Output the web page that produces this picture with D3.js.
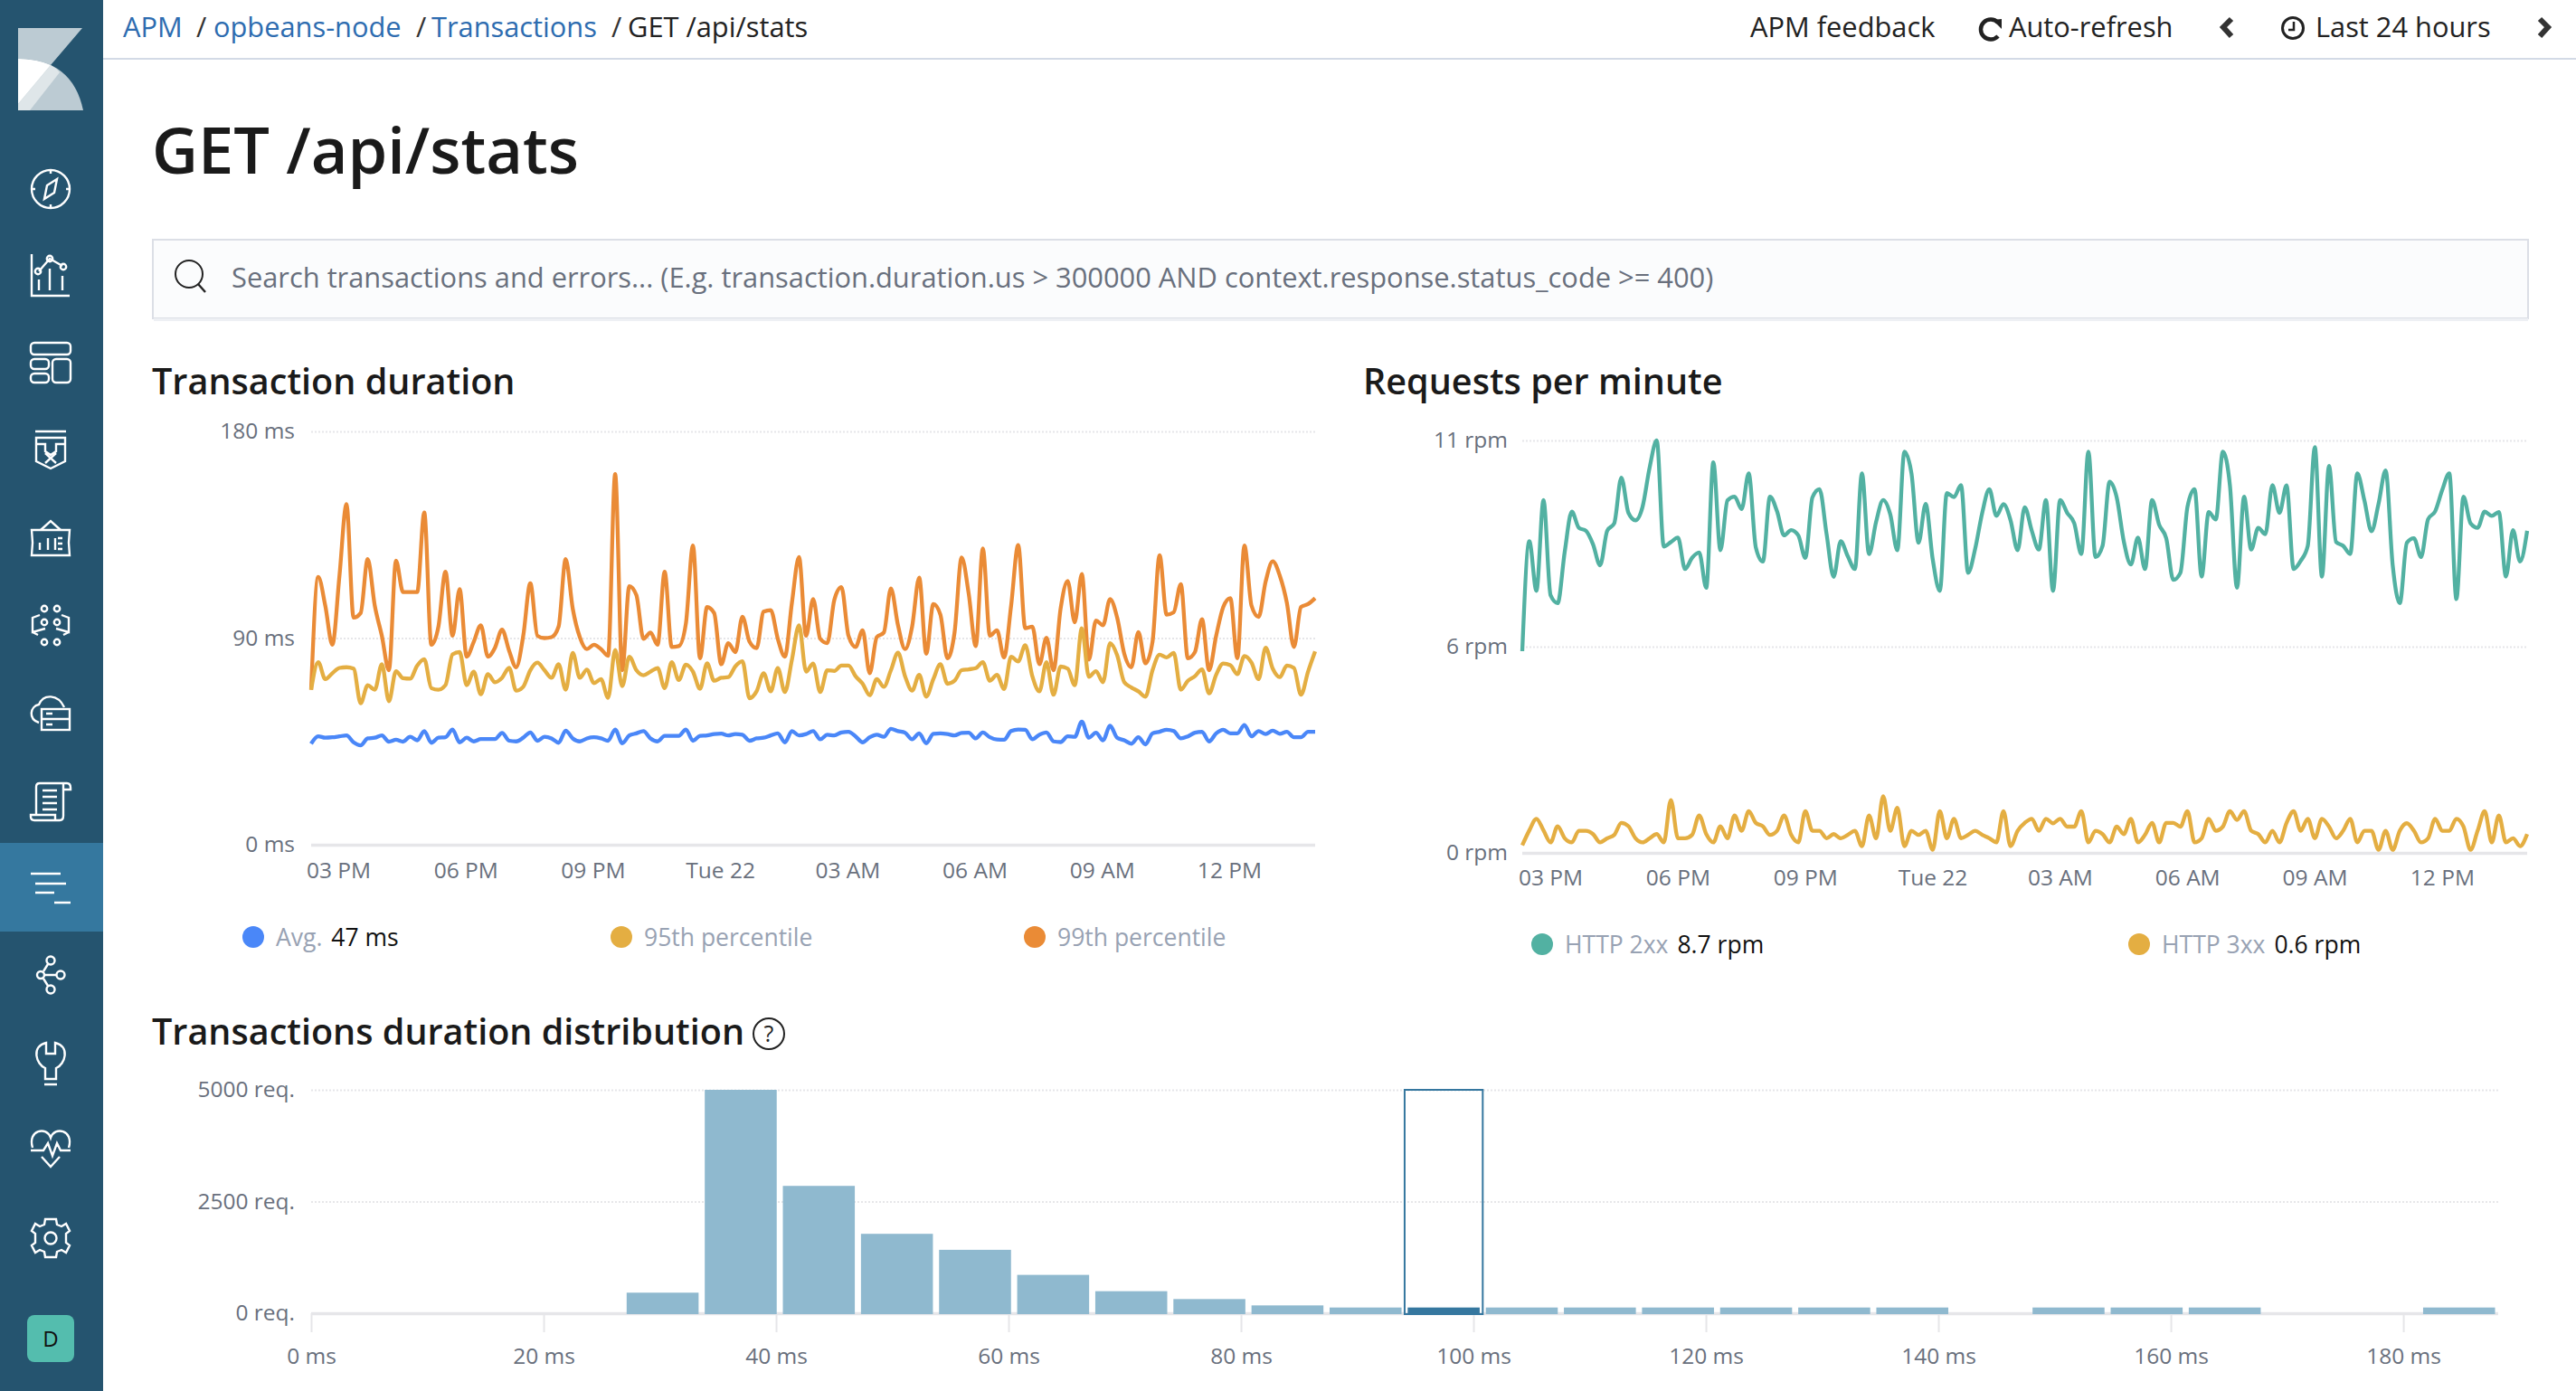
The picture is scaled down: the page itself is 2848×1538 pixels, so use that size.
<!DOCTYPE html>
<html>
<head>
<meta charset="utf-8">
<title>GET /api/stats</title>
<script src="https://cdn.jsdelivr.net/npm/d3@7"></script>
<style>
html,body{margin:0;padding:0;background:#fff;}
svg{display:block;}
text{font-family:"Open Sans",sans-serif;}
</style>
</head>
<body>
<svg id="page" width="2848" height="1538" viewBox="0 0 2848 1538"></svg>
<script>
// ---------- chart data ----------
const bucketStartHour = 14.36;
const bucketsPerHour = 6;

const durationAvgMs = [44,47.2,46.6,46.8,47.2,47.6,44.6,43.3,46.3,46.6,47.6,44.9,45.7,44.9,47,45.5,49.5,44.4,46.6,46.8,50.2,44.6,46.6,45,46,46,46,48.7,45.3,45,46.6,48.9,45.3,47,46.3,44.4,49.7,46.3,45,46.3,46.8,46.3,45.3,50.2,44.2,47.6,48.5,49.5,46.3,45,47.4,47.4,47.4,50.2,45.3,47.4,47.6,48.2,48.4,47.6,48.2,47.9,45.3,46.3,46.6,47.6,48.5,44.6,49.5,47.6,48.2,49.5,45.9,47.9,47.6,48.9,49.2,47.2,44.6,46.8,47.9,47,50.5,49.5,48.8,45.9,48.5,44.2,48.3,48.5,48.2,47.6,48.7,48.8,46.3,48.9,46.8,45.8,45.7,49.5,50.2,50.1,45.9,47.9,48.9,45,44.7,47.2,47,53.6,46.6,48.8,45.5,51.8,46.6,45.5,44,46.8,43.7,48.5,49.2,50.1,49.5,46.3,47.2,48.8,49.2,45,48.5,50.1,48.5,48.5,52.1,47.2,49.5,48.2,49.7,48.3,49.2,46.8,46.8,49.2,49.2];
const durationP95Ms = [67.5,79.5,72.1,74.7,77,77.3,76.7,61.6,69.5,67.5,78.6,62.5,75.6,72.5,72.3,78,80.8,68.2,67.5,69.5,82.9,83.9,69.5,75.4,65.5,74.3,70.8,72.7,77,67.1,68.8,76,79.3,76,72.7,78.6,67.5,83.5,72.7,76.3,70.4,72.1,64,84.8,69.1,81.9,76,73.8,75.4,76.9,68.2,79.5,71.7,78.4,75.4,67.9,79,71.4,72.7,73,77.7,79.9,63.8,66.8,74.7,66.8,76.9,66.5,80.6,95.6,75.4,78.9,66.5,76,75.7,78,78,73.4,70.1,65.1,72.1,68.8,76,83.6,73.4,67.1,74,64.5,72.1,78.6,70.1,71.4,76,76.4,76.9,79.5,71.4,74,67.8,81.9,79.8,86.9,73.4,66.8,79.5,65.3,77.6,76.7,69.5,94.3,73.1,75.6,70.8,87.8,82.5,70.8,68.5,66.8,64.5,76,82.8,81.6,83.5,67.5,71.4,73.4,76.4,65.9,74,78.9,78.2,74.3,82.2,79.3,72.1,85.8,76.7,73,78,77,65.3,75.4,84.2];
const durationP99Ms = [67.5,116.6,104.1,87.1,117,148.3,98.9,100.9,124.4,104.1,91,76,123.7,110,110,110,144.7,87.1,95,118.9,91,111.3,81.9,88.4,95.6,81.9,85.8,93.7,84.5,77.3,91,113.9,91,90,90.4,95,124.4,102.8,90.4,85.2,87.1,85.2,82.3,161.4,76,112.6,108.7,89.7,92.4,87.1,118.9,86.1,86.5,96.3,130.3,81.2,103.5,100.9,78.6,87.8,83.9,99.3,88.4,85.6,101.5,102.2,89.7,81.9,105.4,125.3,91,107,89.7,87.8,106.7,112.2,91,86.1,93.4,74.7,90.4,92.4,111.6,95.6,85.2,95,116.3,83.2,104.8,100.2,81.2,92.4,125.1,109.4,86.5,129,91,93.4,81.6,104.1,130.5,94.3,95,78.6,90.1,76,102.8,114.9,96.9,117.9,80.6,97.6,95.6,107,98.9,83.2,77.3,92.6,79,88.4,126.1,100.2,101.2,113.5,81.2,83.9,98.2,76,91,103.5,107.4,81.2,130.3,104.1,99.2,114.6,123.4,117.2,105.4,86.1,103.5,104.8,107.4];

const rpmHttp2xx = [5.38,8.31,6.99,9.41,6.87,6.66,8.03,9.10,8.67,8.59,8.23,7.67,8.59,8.79,10.01,9.07,8.87,9.23,10.28,11.0,8.17,8.29,8.41,7.57,7.87,8.01,7.07,10.42,8.07,9.40,9.50,9.17,10.12,8.15,7.77,9.50,9.11,8.47,8.61,8.47,7.87,9.48,9.70,8.51,7.36,8.31,7.91,7.57,10.12,7.97,8.83,9.41,9.03,8.07,10.70,10.12,8.27,9.31,7.83,6.99,9.60,9.49,9.81,7.47,8.11,9.07,9.70,8.99,9.30,8.87,8.07,9.22,8.59,8.09,9.41,6.99,9.41,9.07,8.79,7.97,10.70,7.89,8.19,9.90,9.48,8.31,7.69,8.41,7.57,9.41,8.75,8.39,7.28,7.47,9.23,9.70,7.37,9.09,8.89,10.70,9.80,7.07,9.50,8.09,8.67,8.50,9.81,9.07,9.80,7.57,7.79,8.19,10.82,7.37,10.32,8.29,8.19,7.97,10.12,9.40,8.58,9.31,10.20,7.67,6.66,8.27,8.39,7.89,8.90,9.11,9.68,10.12,6.77,9.50,8.79,8.67,9.10,8.99,9.09,7.37,8.61,7.77,8.59];
const rpmHttp3xx = [.20,.60,.91,.60,.28,.71,.39,.28,.59,.59,.50,.28,.39,.48,.80,.71,.39,.28,.39,.50,.28,1.41,.39,.39,.48,1.0,.50,.28,.71,.39,1.0,.59,1.11,.80,.71,.48,.59,1.0,.48,.28,1.11,.59,.59,.39,.50,.39,.48,.59,.18,1.0,.39,1.51,.59,1.20,.18,.59,.48,.59,.08,1.11,.39,.91,.39,.48,.59,.48,.39,.28,1.11,.18,.59,.80,.91,.59,.91,.79,.91,.70,.70,1.11,.28,.59,.50,.28,.70,.50,.91,.28,.48,.80,.28,.80,.80,.70,1.11,.28,.39,.91,.59,.70,1.11,.88,1.11,.59,.50,.28,.59,.28,.80,1.11,.59,.91,.39,.91,.70,.39,.59,.91,.28,.59,.59,.08,.59,.08,.59,.79,.59,.28,.39,.91,.59,.59,.91,.70,.08,.59,1.11,.28,1.0,.28,.39,.18,.50];

const timeTickHours = [15,18,21,24,27,30,33,36];
const timeTickLabels = ["03 PM","06 PM","09 PM","Tue 22","03 AM","06 AM","09 AM","12 PM"];

const durationTickValues = [0,90,180];
const durationTickLabels = ["0 ms","90 ms","180 ms"];
const rpmTickValues = [0,5.5,11];
const rpmTickLabels = ["0 rpm","6 rpm","11 rpm"];

const histBinWidthMs = 6.72;
const histCounts = [0,0,0,0,460,5000,2850,1777,1419,858,493,317,175,128,128,128,128,128,128,128,128,0,128,128,128,0,0,128];
const histSelectedBin = 14;
const histXTicks = [0,20,40,60,80,100,120,140,160,180];
const histYTicks = [0,2500,5000];

// ---------- colours ----------
const COL = {avg:"#4a87f8",p95:"#e4ae42",p99:"#ea8b36",teal:"#52b1a2",bar:"#8fb9cf",dark:"#35779f",
  axis:"#69707d",grid:"#e6e6e9",legend:"#98a2b3",nav:"#25546f",navActive:"#35789f",ink:"#1a1a1a",link:"#2d6cb0"};

const svg = d3.select("#page");
svg.append("rect").attr("width",2848).attr("height",1538).attr("fill","#fff");

function txt(parent,x,y,s,size,fill,opts={}){
  return parent.append("text").attr("x",x).attr("y",y).text(s)
    .attr("font-size",size).attr("fill",fill)
    .attr("font-weight",opts.weight||400)
    .attr("text-anchor",opts.anchor||"start");
}

// ---------- side navigation ----------
const nav = svg.append("g");
nav.append("rect").attr("width",114).attr("height",1538).attr("fill",COL.nav);
nav.append("rect").attr("y",932).attr("width",114).attr("height",98).attr("fill",COL.navActive);
nav.append("path").attr("d","M20,31 H91 L56,72 Q40,65 20,65 Z").attr("fill","#bccbd3");
nav.append("path").attr("d","M20,65 Q80,65 92,122 H20 Z").attr("fill","#bccbd3");
nav.append("path").attr("d","M20,65 Q40,65 56,72 L20,115 Z").attr("fill","#fff");
nav.append("path").attr("d","M56,72 Q62,75 66,80 L33,122 H20 V115 Z").attr("fill","#dfe6e9");

const icons = [
 [209,'<circle r="21"/><path d="M7,-11 L4,4 L-7,11 L-4,-4 Z"/><path d="M0,-21 V-17 M0,21 V17 M-21,0 H-17 M21,0 H17"/>'],
 [305,'<path d="M-21,-24 V22 H21"/><path d="M-13,-5 L-1,-19 L13,-11"/><circle cx="-14" cy="-5" r="3.2"/><circle cx="-1" cy="-19" r="3.2"/><circle cx="14" cy="-10" r="3.2"/><path d="M-13,4 V16 M-1,-8 V16 M13,0 V16"/>'],
 [401,'<rect x="-22" y="-22" width="44" height="13" rx="4"/><rect x="-22" y="-4" width="20" height="11" rx="4"/><rect x="-22" y="12" width="20" height="10" rx="4"/><rect x="2" y="-4" width="20" height="26" rx="4"/>'],
 [498,'<path d="M-17,-21 H17"/><path d="M-16,-14 H16 V12 L0,20 L-16,12 Z"/><path d="M-16,-7 H-6 V1 L0,5 L6,1 V-7 H16"/><path d="M-6,3 L6,14 M6,3 L-6,14"/>'],
 [593,'<path d="M-21,-7 H21 L20,7 L21,21 H-21 L-20,7 Z"/><path d="M-11,-7 L0,-17 L11,-7"/><path d="M-12,15 V7 M-3,15 V2 M5,15 V2 M13,2 H8 M13,8 H8 M13,14 H8"/>'],
 [692,'<circle cx="-7" cy="-19" r="3.2"/><circle cx="7" cy="-19" r="3.2"/><circle cx="-7" cy="-4" r="3.2"/><circle cx="7" cy="-4" r="3.2"/><circle cx="-7" cy="18" r="3.2"/><circle cx="7" cy="18" r="3.2"/><path d="M-12,-12 L-20,-9 V7 L-6,3 M-20,7 L-14,10"/><path d="M12,-12 L20,-9 V7 L6,3 M20,7 L14,10"/>'],
 [791,'<path d="M-13,8 C-25,4 -23,-10 -13,-12 C-8,-24 8,-24 15,-9"/><rect x="-10" y="-7" width="31" height="23"/><path d="M-10,4 H21 M-5,-2 H2 M-5,10 H2"/>'],
 [886,'<path d="M-16,16 V-16 Q-16,-20 -12,-20 H18 Q22,-20 22,-15 V-13 H14"/><path d="M14,-20 V16 Q14,21 10,21 H-18 Q-22,21 -22,17 V15 H5 V21"/><path d="M-9,-12 H7 M-9,-5 H7 M-9,2 H7 M-9,9 H7"/>'],
 [981,'<path d="M-22,-15 H11 M-17,-4 H17 M-17,6 H4 M4,17 H22"/>'],
 [1079,'<circle cx="0" cy="-17" r="4.5"/><circle cx="11" cy="-1" r="4.5"/><circle cx="0" cy="15" r="4.5"/><circle cx="-11" cy="-1" r="4"/><path d="M-7,-1 H6 M-8,-5 L-3,-13 M-8,3 L-3,11"/>'],
 [1175,'<path d="M-5,-22 V-10 H5 V-22 C22,-18 16,2 6,6 V18 H-6 V6 C-16,2 -22,-18 -5,-22 Z M-7,24 H7"/>'],
 [1271,'<path d="M-20,-2 C-26,-22 -4,-26 0,-13 C4,-26 26,-22 20,-2"/><path d="M-22,1 H-8 L-3,-7 L2,7 L7,-7 L11,1 H22"/><path d="M-10,8 L0,19 L10,8"/>'],
 [1369,'<path d="M-6,-21 H6 L7,-15 L12,-13 L17,-16 L21,-8 L17,-5 V5 L21,8 L17,16 L12,13 L7,15 L6,21 H-6 L-7,15 L-12,13 L-17,16 L-21,8 L-17,5 V-5 L-21,-8 L-17,-16 L-12,-13 L-7,-15 Z"/><circle r="6.5"/>']
];
icons.forEach(([cy,markup])=>{
  nav.append("g").attr("transform",`translate(56,${cy})`)
    .attr("fill","none").attr("stroke","#fff").attr("stroke-width",2.4).html(markup);
});
nav.append("rect").attr("x",30).attr("y",1454).attr("width",52).attr("height",52).attr("rx",8).attr("fill","#54bdae");
txt(nav,56,1489,"D",24,"#111",{anchor:"middle"});

// ---------- header ----------
const head = svg.append("g");
head.append("rect").attr("x",114).attr("y",64).attr("width",2734).attr("height",2).attr("fill","#d3dae6");
const crumbY = 41, crumbSize = 30.8;
[[136,"APM",COL.link],[217,"/","#333"],[236,"opbeans-node",COL.link],[460,"/","#333"],[477,"Transactions",COL.link],[676,"/","#333"],[694,"GET /api/stats","#222"]]
  .forEach(([x,s,c])=>txt(head,x,crumbY,s,crumbSize,c));
txt(head,1935,crumbY,"APM feedback",crumbSize,"#222");
txt(head,2221,crumbY,"Auto-refresh",crumbSize,"#222");
txt(head,2560,crumbY,"Last 24 hours",crumbSize,"#222");
head.append("path").attr("d","M2209,25 A11,11 0 1 0 2209,40").attr("fill","none").attr("stroke","#222").attr("stroke-width",4.5);
head.append("path").attr("d","M2203,22 L2213,21 L2213,32 Z").attr("fill","#222");
head.append("path").attr("d","M2467,21 L2458,30 L2467,40").attr("fill","none").attr("stroke","#333").attr("stroke-width",6);
head.append("path").attr("d","M2808,21 L2817,30 L2808,40").attr("fill","none").attr("stroke","#333").attr("stroke-width",6);
head.append("circle").attr("cx",2535).attr("cy",31).attr("r",11.5).attr("fill","none").attr("stroke","#222").attr("stroke-width",3);
head.append("path").attr("d","M2536,24 V33 H2530").attr("fill","none").attr("stroke","#222").attr("stroke-width",2.5);

txt(head,168,192,"GET /api/stats",70.3,COL.ink,{weight:600});

// ---------- search bar ----------
const searchG = svg.append("g");
searchG.append("rect").attr("x",169).attr("y",265).attr("width",2626).attr("height",87).attr("fill","#fbfcfd").attr("stroke","#dcdfe6").attr("stroke-width",2);
searchG.append("rect").attr("x",170).attr("y",352).attr("width",2625).attr("height",3).attr("fill","#eef0f4");
searchG.append("circle").attr("cx",209).attr("cy",303).attr("r",15).attr("fill","none").attr("stroke","#222").attr("stroke-width",2);
searchG.append("path").attr("d","M219,314 L227,323").attr("stroke","#222").attr("stroke-width",2.4);
txt(searchG,256,318,"Search transactions and errors... (E.g. transaction.duration.us > 300000 AND context.response.status_code >= 400)",30.83,"#69707d");

// ---------- time series charts ----------
function hourOf(i){ return bucketStartHour + i / bucketsPerHour; }

function timeChart(opts){
  const g = svg.append("g");
  const n = opts.series[0].values.length;
  const x = d3.scaleLinear().domain([bucketStartHour,hourOf(n-1)]).range([opts.x0,opts.x1]);
  const y = d3.scaleLinear().domain([0,opts.yMax]).range([opts.y0,opts.y1]);

  const yAxis = d3.axisLeft(y).tickValues(opts.yTicks)
    .tickFormat((d,i)=>opts.yLabels[i]).tickSize(-(opts.x1-opts.x0)).tickPadding(opts.yPad);
  const yg = g.append("g").attr("transform",`translate(${opts.x0},0)`).call(yAxis);
  yg.select(".domain").remove();
  yg.selectAll(".tick line").attr("stroke",COL.grid).attr("stroke-width",2).attr("stroke-dasharray","2 2");
  yg.selectAll(".tick text").attr("font-size",24.5).attr("fill",COL.axis).attr("font-family",'"Open Sans",sans-serif');
  yg.selectAll(".tick").filter(d=>d===0).select("line").attr("stroke-dasharray",null).attr("stroke-width",3.5).attr("stroke","#e6e6e9");

  const xAxis = d3.axisBottom(x).tickValues(timeTickHours)
    .tickFormat((d,i)=>timeTickLabels[i]).tickSize(0).tickPadding(opts.xPad);
  const xg = g.append("g").attr("transform",`translate(${opts.xShift},${opts.y0})`).call(xAxis);
  xg.select(".domain").remove();
  xg.selectAll(".tick text").attr("font-size",24.5).attr("fill",COL.axis).attr("font-family",'"Open Sans",sans-serif');

  const line = d3.line().x((d,i)=>x(hourOf(i))).y(d=>y(d)).curve(d3.curveMonotoneX);
  opts.series.forEach(s=>{
    g.append("path").datum(s.values).attr("d",line).attr("fill","none")
      .attr("stroke",s.color).attr("stroke-width",4.3).attr("stroke-linejoin","round");
  });
  txt(g,opts.titleX,opts.titleY,opts.title,39.6,COL.ink,{weight:600});

  opts.legend.forEach(l=>{
    g.append("circle").attr("cx",l.cx).attr("cy",opts.legendY).attr("r",12).attr("fill",l.color);
    const t = txt(g,l.cx+25,opts.legendY+10,l.label,26.5,COL.legend);
    if(l.value) t.append("tspan").attr("dx",10).attr("fill","#111").text(l.value);
  });
}

timeChart({title:"Transaction duration",titleX:168,titleY:436,x0:344,x1:1454,y0:934,y1:477,yMax:180,
  yTicks:durationTickValues,yLabels:durationTickLabels,xPad:20,yPad:18,xShift:0,legendY:1036,
  series:[{values:durationP99Ms,color:COL.p99},{values:durationP95Ms,color:COL.p95},{values:durationAvgMs,color:COL.avg}],
  legend:[{cx:280,color:COL.avg,label:"Avg.",value:"47 ms"},{cx:687,color:COL.p95,label:"95th percentile"},{cx:1144,color:COL.p99,label:"99th percentile"}]});

timeChart({title:"Requests per minute",titleX:1507,titleY:436,x0:1683,x1:2794,y0:943,y1:487,yMax:11,
  yTicks:rpmTickValues,yLabels:rpmTickLabels,xPad:19,yPad:16,xShift:1,legendY:1044,
  series:[{values:rpmHttp2xx,color:COL.teal},{values:rpmHttp3xx,color:COL.p95}],
  legend:[{cx:1705,color:COL.teal,label:"HTTP 2xx",value:"8.7 rpm"},{cx:2365,color:COL.p95,label:"HTTP 3xx",value:"0.6 rpm"}]});

// ---------- histogram ----------
const hg = svg.append("g");
txt(hg,168,1155,"Transactions duration distribution",39.56,COL.ink,{weight:600});
hg.append("circle").attr("cx",850).attr("cy",1143).attr("r",17).attr("fill","none").attr("stroke","#222").attr("stroke-width",2);
txt(hg,850,1152,"?",25,"#222",{anchor:"middle"});

const hx = d3.scaleLinear().domain([0,histCounts.length*histBinWidthMs]).range([344,2761.9]);
const hy = d3.scaleLinear().domain([0,5000]).range([1452,1205]);

const hyAxis = d3.axisLeft(hy).tickValues(histYTicks).tickFormat(d=>d+" req.").tickSize(-(hx.range()[1]-344)).tickPadding(18);
const hyg = hg.append("g").attr("transform","translate(344,0)").call(hyAxis);
hyg.select(".domain").remove();
hyg.selectAll(".tick line").attr("stroke",COL.grid).attr("stroke-width",2).attr("stroke-dasharray","2 2");
hyg.selectAll(".tick").filter(d=>d===0).select("line").attr("stroke-dasharray",null).attr("stroke-width",3.5);
hyg.selectAll(".tick text").attr("font-size",24.5).attr("fill",COL.axis).attr("font-family",'"Open Sans",sans-serif');

const hxAxis = d3.axisBottom(hx).tickValues(histXTicks).tickFormat(d=>d+" ms").tickSize(21).tickPadding(18);
const hxg = hg.append("g").attr("transform","translate(0,1452)").call(hxAxis);
hxg.select(".domain").remove();
hxg.selectAll(".tick line").attr("stroke",COL.grid).attr("stroke-width",2);
hxg.selectAll(".tick text").attr("font-size",24.5).attr("fill",COL.axis).attr("font-family",'"Open Sans",sans-serif');

const inset = 3.4;
histCounts.forEach((c,k)=>{
  if(c<=0) return;
  const x0 = hx(k*histBinWidthMs)+inset, x1 = hx((k+1)*histBinWidthMs)-inset;
  hg.append("rect").attr("class","bin").attr("x",x0).attr("y",hy(c)).attr("width",x1-x0).attr("height",hy(0)-hy(c)+1)
    .attr("fill",k===histSelectedBin?COL.dark:COL.bar);
});
hg.append("rect")
  .attr("x",hx(histSelectedBin*histBinWidthMs)).attr("y",hy(5000))
  .attr("width",hx((histSelectedBin+1)*histBinWidthMs)-hx(histSelectedBin*histBinWidthMs))
  .attr("height",hy(0)-hy(5000)+1)
  .attr("fill","none").attr("stroke",COL.dark).attr("stroke-width",2);
</script>
</body>
</html>
